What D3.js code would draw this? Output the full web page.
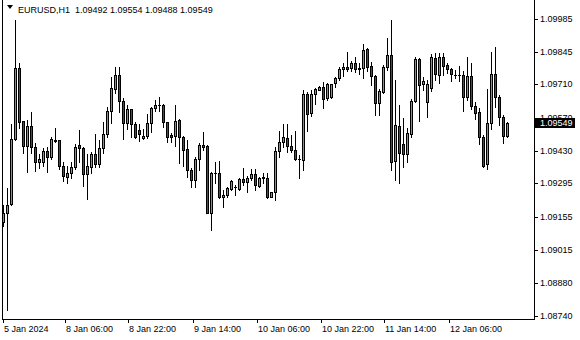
<!DOCTYPE html>
<html><head><meta charset="utf-8">
<script src="https://cdn.jsdelivr.net/npm/d3@7"></script>
<style>
html,body{margin:0;padding:0;background:#fff;}
svg{display:block;}
text{font-family:"Liberation Sans",Arial,sans-serif;}
</style></head>
<body>
<svg id="c" width="580" height="340"></svg>
<script>
const symbolTitle = "EURUSD,H1";
const lastOHLC = ["1.09492","1.09554","1.09488","1.09549"];
const xTickIndex = [0,15,31,47,63,79,95,111];
const xTickLabels = ["5 Jan 2024","8 Jan 06:00","8 Jan 22:00","9 Jan 14:00","10 Jan 06:00","10 Jan 22:00","11 Jan 14:00","12 Jan 06:00"];
const yTickValues = [1.09985,1.09845,1.09710,1.09570,1.09430,1.09295,1.09155,1.09015,1.08880,1.08740];
const lastPrice = 1.09549;

const open = [1.09133,1.09171,1.09209,1.09481,1.09778,1.09556,1.09452,1.09535,1.09447,1.09385,
1.09385,1.09431,1.09406,1.09477,1.09477,1.09368,1.09322,1.09337,1.09365,1.09456,
1.09444,1.09333,1.09364,1.09418,1.09376,1.09443,1.09502,1.09598,1.09690,1.09749,
1.09640,1.09548,1.09607,1.09544,1.09519,1.09485,1.09494,1.09548,1.09611,1.09623,
1.09623,1.09553,1.09498,1.09495,1.09561,1.09491,1.09439,1.09351,1.09309,1.09398,
1.09456,1.09452,1.09172,1.09339,1.09339,1.09238,1.09246,1.09271,1.09281,1.09271,
1.09313,1.09301,1.09318,1.09334,1.09285,1.09318,1.09318,1.09239,1.09259,1.09431,
1.09468,1.09485,1.09453,1.09435,1.09398,1.09393,1.09670,1.09590,1.09670,1.09686,
1.09699,1.09651,1.09657,1.09716,1.09737,1.09774,1.09783,1.09778,1.09799,1.09776,
1.09778,1.09858,1.09787,1.09745,1.09632,1.09678,1.09783,1.09833,1.09390,1.09535,
1.09460,1.09418,1.09502,1.09641,1.09816,1.09711,1.09636,1.09696,1.09820,1.09749,
1.09825,1.09791,1.09774,1.09749,1.09749,1.09749,1.09657,1.09745,1.09619,1.09595,
1.09491,1.09376,1.09548,1.09753,1.09658,1.09574,1.09492];
const high = [1.09204,1.09276,1.09544,1.09980,1.09801,1.09558,1.09561,1.09594,1.09464,1.09418,
1.09443,1.09447,1.09489,1.09527,1.09478,1.09385,1.09368,1.09385,1.09460,1.09519,
1.09449,1.09418,1.09428,1.09502,1.09477,1.09553,1.09616,1.09741,1.09784,1.09784,
1.09653,1.09623,1.09607,1.09553,1.09544,1.09523,1.09586,1.09616,1.09644,1.09657,
1.09627,1.09553,1.09507,1.09623,1.09565,1.09494,1.09477,1.09360,1.09407,1.09465,
1.09512,1.09456,1.09344,1.09386,1.09390,1.09267,1.09281,1.09309,1.09288,1.09318,
1.09359,1.09326,1.09355,1.09355,1.09323,1.09339,1.09339,1.09259,1.09447,1.09516,
1.09544,1.09544,1.09498,1.09515,1.09414,1.09686,1.09679,1.09686,1.09695,1.09703,
1.09721,1.09717,1.09711,1.09742,1.09783,1.09801,1.09846,1.09808,1.09825,1.09799,
1.09879,1.09862,1.09805,1.09749,1.09690,1.09791,1.09904,1.09980,1.09728,1.09623,
1.09569,1.09527,1.09649,1.09826,1.09820,1.09741,1.09728,1.09837,1.09841,1.09843,
1.09843,1.09801,1.09778,1.09770,1.09787,1.09767,1.09825,1.09801,1.09637,1.09611,
1.09498,1.09690,1.09847,1.09868,1.09665,1.09582,1.09554];
const low = [1.09116,1.08765,1.09205,1.09478,1.09527,1.09422,1.09343,1.09422,1.09347,1.09359,
1.09368,1.09343,1.09397,1.09468,1.09355,1.09305,1.09297,1.09318,1.09355,1.09386,
1.09284,1.09230,1.09339,1.09364,1.09365,1.09422,1.09489,1.09548,1.09674,1.09595,
1.09481,1.09523,1.09489,1.09485,1.09474,1.09481,1.09485,1.09510,1.09600,1.09600,
1.09531,1.09470,1.09470,1.09452,1.09382,1.09368,1.09322,1.09280,1.09281,1.09351,
1.09435,1.09171,1.09100,1.09297,1.09234,1.09196,1.09239,1.09267,1.09246,1.09267,
1.09288,1.09260,1.09309,1.09267,1.09281,1.09298,1.09234,1.09238,1.09225,1.09407,
1.09449,1.09428,1.09428,1.09393,1.09318,1.09351,1.09516,1.09577,1.09628,1.09686,
1.09611,1.09644,1.09653,1.09700,1.09728,1.09745,1.09767,1.09767,1.09763,1.09753,
1.09737,1.09767,1.09707,1.09581,1.09581,1.09674,1.09770,1.09351,1.09309,1.09297,
1.09364,1.09386,1.09491,1.09637,1.09556,1.09686,1.09574,1.09682,1.09728,1.09717,
1.09749,1.09757,1.09725,1.09737,1.09725,1.09600,1.09644,1.09607,1.09565,1.09460,
1.09364,1.09355,1.09523,1.09616,1.09540,1.09464,1.09488];
const close = [1.09171,1.09204,1.09481,1.09778,1.09552,1.09452,1.09535,1.09447,1.09385,1.09397,
1.09431,1.09406,1.09481,1.09473,1.09368,1.09326,1.09339,1.09365,1.09449,1.09443,
1.09333,1.09368,1.09418,1.09376,1.09443,1.09502,1.09598,1.09695,1.09749,1.09640,
1.09548,1.09607,1.09544,1.09489,1.09502,1.09494,1.09548,1.09611,1.09623,1.09623,
1.09553,1.09491,1.09491,1.09558,1.09491,1.09435,1.09351,1.09309,1.09398,1.09456,
1.09447,1.09172,1.09339,1.09339,1.09238,1.09246,1.09276,1.09305,1.09281,1.09312,
1.09301,1.09318,1.09334,1.09288,1.09318,1.09322,1.09239,1.09259,1.09431,1.09468,
1.09489,1.09453,1.09435,1.09398,1.09398,1.09670,1.09586,1.09670,1.09690,1.09699,
1.09649,1.09711,1.09711,1.09737,1.09774,1.09783,1.09774,1.09799,1.09774,1.09778,
1.09854,1.09783,1.09745,1.09632,1.09682,1.09783,1.09833,1.09386,1.09540,1.09422,
1.09418,1.09506,1.09641,1.09816,1.09707,1.09724,1.09711,1.09825,1.09753,1.09825,
1.09788,1.09774,1.09753,1.09749,1.09749,1.09658,1.09745,1.09619,1.09591,1.09491,
1.09368,1.09548,1.09753,1.09658,1.09574,1.09492,1.09549];

const bullColor = "#32cd32", bearColor = "#ff0000";
const n = open.length;
const svg = d3.select("#c");
const plotLeft = 2, plotRight = 534, plotBottom = 319;

const x = d3.scaleLinear().domain([0, n-1]).range([3.5, 3.5 + 4*(n-1)]);
const y = d3.scaleLinear().domain([1.08740, 1.09985]).range([316, 18.7]);

const bars = d3.range(n).map(i => ({i, o:open[i], h:high[i], l:low[i], c:close[i]}));

// frame
const frame = svg.append("g").attr("shape-rendering","crispEdges").attr("stroke","#000");
frame.append("line").attr("x1",plotLeft+0.5).attr("x2",plotLeft+0.5).attr("y1",0).attr("y2",plotBottom+0.5);
frame.append("line").attr("x1",plotLeft).attr("x2",plotRight+1).attr("y1",plotBottom+0.5).attr("y2",plotBottom+0.5);
frame.append("line").attr("x1",plotRight+0.5).attr("x2",plotRight+0.5).attr("y1",0).attr("y2",plotBottom+0.5);

// candles
const g = svg.append("g").attr("shape-rendering","crispEdges");
g.selectAll("line.wick").data(bars).join("line").attr("class","wick")
  .attr("x1",d=>x(d.i)).attr("x2",d=>x(d.i))
  .attr("y1",d=>Math.round(y(d.h))).attr("y2",d=>Math.round(y(d.l))+1)
  .attr("stroke","#000").attr("stroke-width",1);
bars.forEach(d => {
  const yo = Math.round(y(d.o)), yc = Math.round(y(d.c));
  if (yo === yc) {
    g.append("line").attr("x1",x(d.i)-1.5).attr("x2",x(d.i)+1.5)
      .attr("y1",yo+0.5).attr("y2",yo+0.5).attr("stroke","#000");
  } else {
    g.append("rect").attr("x",x(d.i)-1).attr("width",2)
      .attr("y",Math.min(yo,yc)+0.5).attr("height",Math.abs(yo-yc))
      .attr("fill", d.c > d.o ? bullColor : bearColor)
      .attr("stroke","#000").attr("stroke-width",1);
  }
});

// y axis
const ya = svg.append("g");
yTickValues.forEach(v => {
  const yy = Math.round(y(v));
  ya.append("line").attr("x1",plotRight).attr("x2",plotRight+4).attr("y1",yy+0.5).attr("y2",yy+0.5)
    .attr("stroke","#000").attr("shape-rendering","crispEdges");
  ya.append("text").attr("x",540).attr("y",yy+3.3).attr("font-size",9).attr("fill","#000").text(v.toFixed(5));
});
// current price box
const yp = y(lastPrice);
svg.append("rect").attr("x",plotRight+1).attr("y",Math.round(yp)-5).attr("width",40).attr("height",10).attr("fill","#000");
svg.append("text").attr("x",540).attr("y",Math.round(yp)+3.3).attr("font-size",9).attr("fill","#fff").text(lastPrice.toFixed(5));

// x axis
const xa = svg.append("g");
xTickIndex.forEach((idx,k) => {
  const xx = Math.round(x(idx)) + (k===0 ? -1 : 1);
  xa.append("line").attr("x1",xx+0.5).attr("x2",xx+0.5).attr("y1",plotBottom).attr("y2",plotBottom+4)
    .attr("stroke","#000").attr("shape-rendering","crispEdges");
  xa.append("text").attr("x",xx+1).attr("y",331.5).attr("font-size",9).attr("fill","#000").text(xTickLabels[k]);
});

// header
svg.append("path").attr("d","M7,5 L13,5 L10,9 Z").attr("fill","#000");
svg.append("text").attr("x",18).attr("y",13).attr("font-size",9).attr("fill","#000")
  .text(symbolTitle + "\u00a0\u00a0" + lastOHLC.join(" "));
</script>
</body></html>
